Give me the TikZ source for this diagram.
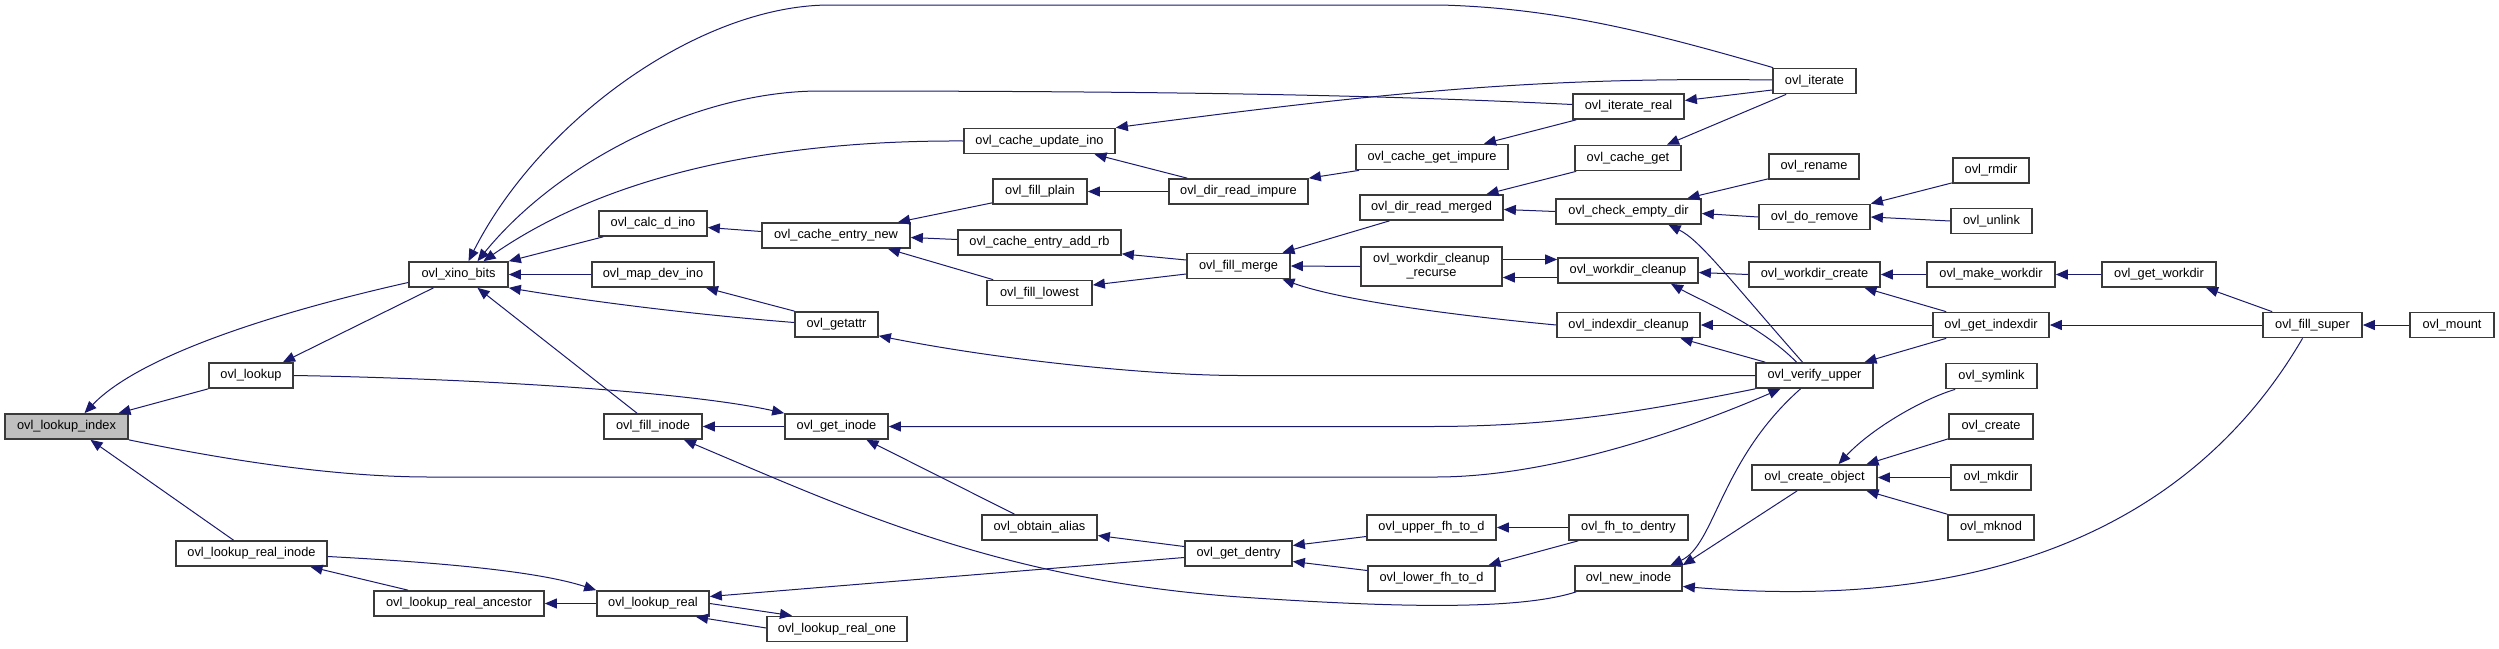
\documentclass[tikz,border=0pt]{standalone}
\usepackage{fontspec}
\setmainfont{Liberation Sans}
\usetikzlibrary{arrows.meta,calc}
\definecolor{edgecol}{HTML}{191970}
\definecolor{boxline}{HTML}{3A3A3A}
\begin{document}
\begin{tikzpicture}[x=1pt,y=-1pt,
  box/.style={draw=boxline, line width=1.7pt, fill=white, minimum height=25pt, inner sep=0pt, font=\fontsize{12.8}{14}\selectfont},
  edge/.style={draw=edgecol, line width=1pt, >={Triangle[length=12pt,width=10pt]}}]
\useasboundingbox (0,0) rectangle (2499,648);
% rank 0
\node[box, fill=black!25, minimum width=123pt] (idx) at (66.5,426.5) {ovl\_lookup\_index};
% rank 1
\node[box, minimum width=99pt] (xino) at (458.5,274.5) {ovl\_xino\_bits};
\node[box, minimum width=84pt] (lookup) at (251,375.5) {ovl\_lookup};
\node[box, minimum width=151pt] (lri) at (251.5,553.5) {ovl\_lookup\_real\_inode};
\node[box, minimum width=170pt] (lra) at (459,603.5) {ovl\_lookup\_real\_ancestor};
% rank 2
\node[box, minimum width=108pt] (calc) at (653,223.5) {ovl\_calc\_d\_ino};
\node[box, minimum width=122pt] (mapdev) at (653,274.5) {ovl\_map\_dev\_ino};
\node[box, minimum width=98pt] (fillinode) at (653,426.5) {ovl\_fill\_inode};
\node[box, minimum width=112pt] (lreal) at (653,603.5) {ovl\_lookup\_real};
% rank 3
\node[box, minimum width=148pt] (cen) at (836,235.5) {ovl\_cache\_entry\_new};
\node[box, minimum width=83pt] (getattr) at (836.5,324.5) {ovl\_getattr};
\node[box, minimum width=103pt] (getinode) at (836.5,426.5) {ovl\_get\_inode};
\node[box, minimum width=140pt] (lro) at (837,629) {ovl\_lookup\_real\_one};
% rank 4
\node[box, minimum width=151pt] (cui) at (1039.5,141) {ovl\_cache\_update\_ino};
\node[box, minimum width=94pt] (fillplain) at (1040,191.5) {ovl\_fill\_plain};
\node[box, minimum width=163pt] (cear) at (1039.5,242.5) {ovl\_cache\_entry\_add\_rb};
\node[box, minimum width=105pt] (filllowest) at (1039.5,293) {ovl\_fill\_lowest};
\node[box, minimum width=115pt] (obtain) at (1039.5,527.5) {ovl\_obtain\_alias};
% rank 5
\node[box, minimum width=139pt] (drimp) at (1238.5,191.5) {ovl\_dir\_read\_impure};
\node[box, minimum width=103pt] (fillmerge) at (1238.5,266) {ovl\_fill\_merge};
\node[box, minimum width=107pt] (getdentry) at (1238.5,553.5) {ovl\_get\_dentry};
% rank 6
\node[box, minimum width=152pt] (cgi) at (1432,157) {ovl\_cache\_get\_impure};
\node[box, minimum width=143pt] (drm) at (1431.5,207.5) {ovl\_dir\_read\_merged};
\node[box, minimum width=141pt, minimum height=39pt, align=center] (wcr) at (1431.5,266.5) {ovl\_workdir\_cleanup\\\_recurse};
\node[box, minimum width=129pt] (ufh) at (1431.5,527.5) {ovl\_upper\_fh\_to\_d};
\node[box, minimum width=127pt] (lfh) at (1431.5,578.5) {ovl\_lower\_fh\_to\_d};
% rank 7
\node[box, minimum width=111pt] (itreal) at (1628.5,106.5) {ovl\_iterate\_real};
\node[box, minimum width=106pt] (cacheget) at (1628,158) {ovl\_cache\_get};
\node[box, minimum width=145pt] (ced) at (1628.5,211.5) {ovl\_check\_empty\_dir};
\node[box, minimum width=140pt] (wc) at (1628,270.5) {ovl\_workdir\_cleanup};
\node[box, minimum width=143pt] (ic) at (1628.5,325) {ovl\_indexdir\_cleanup};
\node[box, minimum width=119pt] (fhd) at (1628.5,527.5) {ovl\_fh\_to\_dentry};
\node[box, minimum width=107pt] (newinode) at (1628.5,578.5) {ovl\_new\_inode};
% rank 8
\node[box, minimum width=83pt] (iterate) at (1814.5,81) {ovl\_iterate};
\node[box, minimum width=90pt] (rename) at (1814,166.5) {ovl\_rename};
\node[box, minimum width=111pt] (doremove) at (1814.5,217) {ovl\_do\_remove};
\node[box, minimum width=131pt] (wcreate) at (1814.5,274.5) {ovl\_workdir\_create};
\node[box, minimum width=117pt] (verify) at (1814.5,375.5) {ovl\_verify\_upper};
\node[box, minimum width=125pt] (createobj) at (1814.5,477.5) {ovl\_create\_object};
% rank 9
\node[box, minimum width=76pt] (rmdir) at (1991,170.5) {ovl\_rmdir};
\node[box, minimum width=81pt] (unlink) at (1991.5,221) {ovl\_unlink};
\node[box, minimum width=128pt] (mkwork) at (1991,274.5) {ovl\_make\_workdir};
\node[box, minimum width=116pt] (getindex) at (1991,325) {ovl\_get\_indexdir};
\node[box, minimum width=91pt] (symlink) at (1991.5,376) {ovl\_symlink};
\node[box, minimum width=84pt] (create) at (1991,426.5) {ovl\_create};
\node[box, minimum width=80pt] (mkdir) at (1991,477.5) {ovl\_mkdir};
\node[box, minimum width=86pt] (mknod) at (1991,527.5) {ovl\_mknod};
% rank 10+
\node[box, minimum width=114pt] (getwork) at (2159,274.5) {ovl\_get\_workdir};
\node[box, minimum width=99pt] (fillsuper) at (2312.5,325) {ovl\_fill\_super};
\node[box, minimum width=84pt] (mount) at (2452,325) {ovl\_mount};

% edges
\draw[edge,<-] ($(idx.north)+(18,0)$) .. controls (150,345) and (330,300) .. ($(xino.west)+(0,8)$);
\draw[edge,<-] ($(idx.north)+(52,0)$) -- (lookup.south west);
\draw[edge,->] (idx.south east) .. controls (250,465) and (350,477) .. (430,477) -- (1436,477) .. controls (1530,477) and (1650,445) .. ($(verify.south)+(-34,0)$);
\draw[edge,<-] ($(idx.south)+(24,0)$) -- ($(lri.north)+(-18,0)$);
\draw[edge,<-] ($(lookup.north)+(32,0)$) -- ($(xino.south)+(-25,0)$);
\draw[edge,<-] (getinode.north west) .. controls (680,390) and (450,378) .. (lookup.east);
\draw[edge,<-] (fillinode.east) -- (getinode.west);
\draw[edge,<-] ($(xino.south)+(19,0)$) -- ($(fillinode.north)+(-16,0)$);
\draw[edge,<-] ($(fillinode.south)+(31,0)$) .. controls (850,510) and (1000,580) .. (1240,597) .. controls (1400,608) and (1520,610) .. ($(newinode.south west)+(2,0)$);
\draw[edge,<-] ($(getinode.south)+(30,0)$) -- ($(obtain.north)+(-25,0)$);
\draw[edge,<-] (getinode.east) -- (1430,426.5) .. controls (1560,426.5) and (1650,410) .. (verify.south west);
\draw[edge,<-] ($(getattr.south east)+(0,-2)$) .. controls (1000,360) and (1150,375.5) .. (1240,375.5) -- (verify.west);
\draw[edge,<-] (xino.south east) .. controls (600,303) and (700,315) .. ($(getattr.west)+(0,-2)$);
\draw[edge,<-] (xino.east) -- (mapdev.west);
\draw[edge,<-] ($(mapdev.south)+(53,0)$) -- ($(getattr.north)+(-42,0)$);
\draw[edge,<-] (xino.north east) -- ($(calc.south west)+(5,0)$);
\draw[edge,<-] ($(calc.east)+(0,4)$) -- ($(cen.west)+(0,-4)$);
\draw[edge,<-] ($(cen.north)+(62,0)$) -- ($(fillplain.south west)+(0,-2)$);
\draw[edge,<-] ($(cen.east)+(0,2)$) -- ($(cear.west)+(0,-3)$);
\draw[edge,<-] ($(cen.south)+(52,0)$) -- ($(filllowest.north west)+(7,0)$);
\draw[edge,<-] ($(xino.north)+(25,0)$) .. controls (600,180) and (760,140) .. (cui.west);
\draw[edge,<-] ($(xino.north)+(19,0)$) .. controls (560,160) and (700,91) .. (820,91) .. controls (1200,91) and (1400,96) .. ($(itreal.west)+(0,-2)$);
\draw[edge,<-] ($(xino.north)+(10,0)$) .. controls (540,120) and (700,5) .. (830,5) -- (1440,5) .. controls (1560,8) and (1660,35) .. ($(iterate.north west)+(1,0)$);
\draw[edge,<-] (cui.north east) .. controls (1400,90) and (1550,77) .. ($(iterate.west)+(0,-1)$);
\draw[edge,<-] ($(itreal.east)+(0,-6)$) -- ($(iterate.west)+(0,9)$);
\draw[edge,<-] ($(cacheget.north)+(39,0)$) -- ($(iterate.south west)+(14,0)$);
\draw[edge,<-] ($(cgi.north)+(52,0)$) -- ($(itreal.south west)+(4,0)$);
\draw[edge,<-] (drimp.north east) -- ($(cgi.south west)+(4,0)$);
\draw[edge,<-] ($(cui.south)+(55,0)$) -- ($(drimp.north west)+(19,0)$);
\draw[edge,<-] (fillplain.east) -- (drimp.west);
\draw[edge,<-] ($(drm.north)+(55,0)$) -- ($(cacheget.south west)+(2,0)$);
\draw[edge,<-] ($(drm.east)+(0,2)$) -- (ced.west);
\draw[edge,<-] ($(fillmerge.north)+(44,0)$) -- ($(drm.south)+(-42,0)$);
\draw[edge,<-] (fillmerge.east) -- (wcr.west);
\draw[edge,<-] ($(fillmerge.south)+(44,0)$) .. controls (1340,300) and (1450,315) .. (ic.west);
\draw[edge,<-] ($(cear.south east)+(0,-2)$) -- ($(fillmerge.west)+(0,-6)$);
\draw[edge,<-] ($(filllowest.east)+(0,-8)$) -- ($(fillmerge.west)+(0,8)$);
\draw[edge,<-] ($(ced.north)+(59,0)$) -- ($(rename.south west)+(0,-1)$);
\draw[edge,<-] ($(ced.east)+(0,2)$) -- (doremove.west);
\draw[edge,<-] ($(ced.south)+(40,0)$) .. controls (1700,240) and (1730,280) .. ($(verify.north)+(-12,0)$);
\draw[edge,<-] (doremove.north east) -- ($(rmdir.south west)+(0,-1)$);
\draw[edge,<-] (doremove.east) -- (unlink.west);
\draw[edge,->] ($(wcr.east)+(0,-7)$) -- ($(wc.west)+(0,-11)$);
\draw[edge,<-] ($(wcr.east)+(0,11)$) -- ($(wc.west)+(0,7)$);
\draw[edge,<-] ($(wc.east)+(0,2)$) -- (wcreate.west);
\draw[edge,<-] ($(wc.south)+(43,0)$) .. controls (1700,300) and (1760,325) .. ($(verify.north)+(-18,0)$);
\draw[edge,<-] (ic.east) -- (getindex.west);
\draw[edge,<-] ($(ic.south)+(52,0)$) -- ($(verify.north west)+(10,0)$);
\draw[edge,<-] ($(verify.north)+(50,0)$) -- ($(getindex.south west)+(14,0)$);
\draw[edge,<-] ($(wcreate.south)+(50,0)$) -- ($(getindex.north west)+(14,0)$);
\draw[edge,<-] (wcreate.east) -- (mkwork.west);
\draw[edge,<-] (mkwork.east) -- (getwork.west);
\draw[edge,<-] ($(getwork.south)+(47,0)$) -- ($(fillsuper.north west)+(10,0)$);
\draw[edge,<-] (getindex.east) -- (fillsuper.west);
\draw[edge,<-] (fillsuper.east) -- (mount.west);
\draw[edge,<-] ($(newinode.east)+(0,8)$) .. controls (1850,600) and (2150,600) .. ($(fillsuper.south)+(-10,0)$);
\draw[edge,<-] ($(newinode.north)+(42,0)$) .. controls (1715,545) and (1720,460) .. ($(verify.south)+(-14,0)$);
\draw[edge,<-] (newinode.north east) -- ($(createobj.south west)+(46,0)$);
\draw[edge,<-] ($(createobj.north)+(24,0)$) .. controls (1870,430) and (1920,400) .. ($(symlink.south west)+(10,0)$);
\draw[edge,<-] ($(createobj.north)+(52,0)$) -- ($(create.south west)+(0,-1)$);
\draw[edge,<-] (createobj.east) -- (mkdir.west);
\draw[edge,<-] ($(createobj.south)+(52,0)$) -- (mknod.north west);
\draw[edge,<-] ($(obtain.east)+(0,8)$) -- ($(getdentry.west)+(0,-7)$);
\draw[edge,<-] ($(lreal.east)+(0,-7)$) -- ($(getdentry.west)+(0,4)$);
\draw[edge,<-] ($(getdentry.east)+(0,-8)$) -- ($(ufh.west)+(0,9)$);
\draw[edge,<-] ($(getdentry.east)+(0,8)$) -- ($(lfh.west)+(0,-8)$);
\draw[edge,<-] (ufh.east) -- (fhd.west);
\draw[edge,<-] ($(lfh.north)+(57,0)$) -- ($(fhd.south west)+(10,0)$);
\draw[edge,<-] ($(lri.south)+(59,0)$) -- ($(lra.north)+(-51,0)$);
\draw[edge,->] ($(lri.east)+(0,3)$) .. controls (450,563) and (540,572) .. (lreal.north west);
\draw[edge,<-] (lra.east) -- (lreal.west);
\draw[edge,->] (lreal.east) -- ($(lro.north)+(-45,0)$);
\draw[edge,<-] ($(lreal.south)+(43,0)$) -- ($(lro.west)+(0,-1)$);
\end{tikzpicture}
\end{document}
